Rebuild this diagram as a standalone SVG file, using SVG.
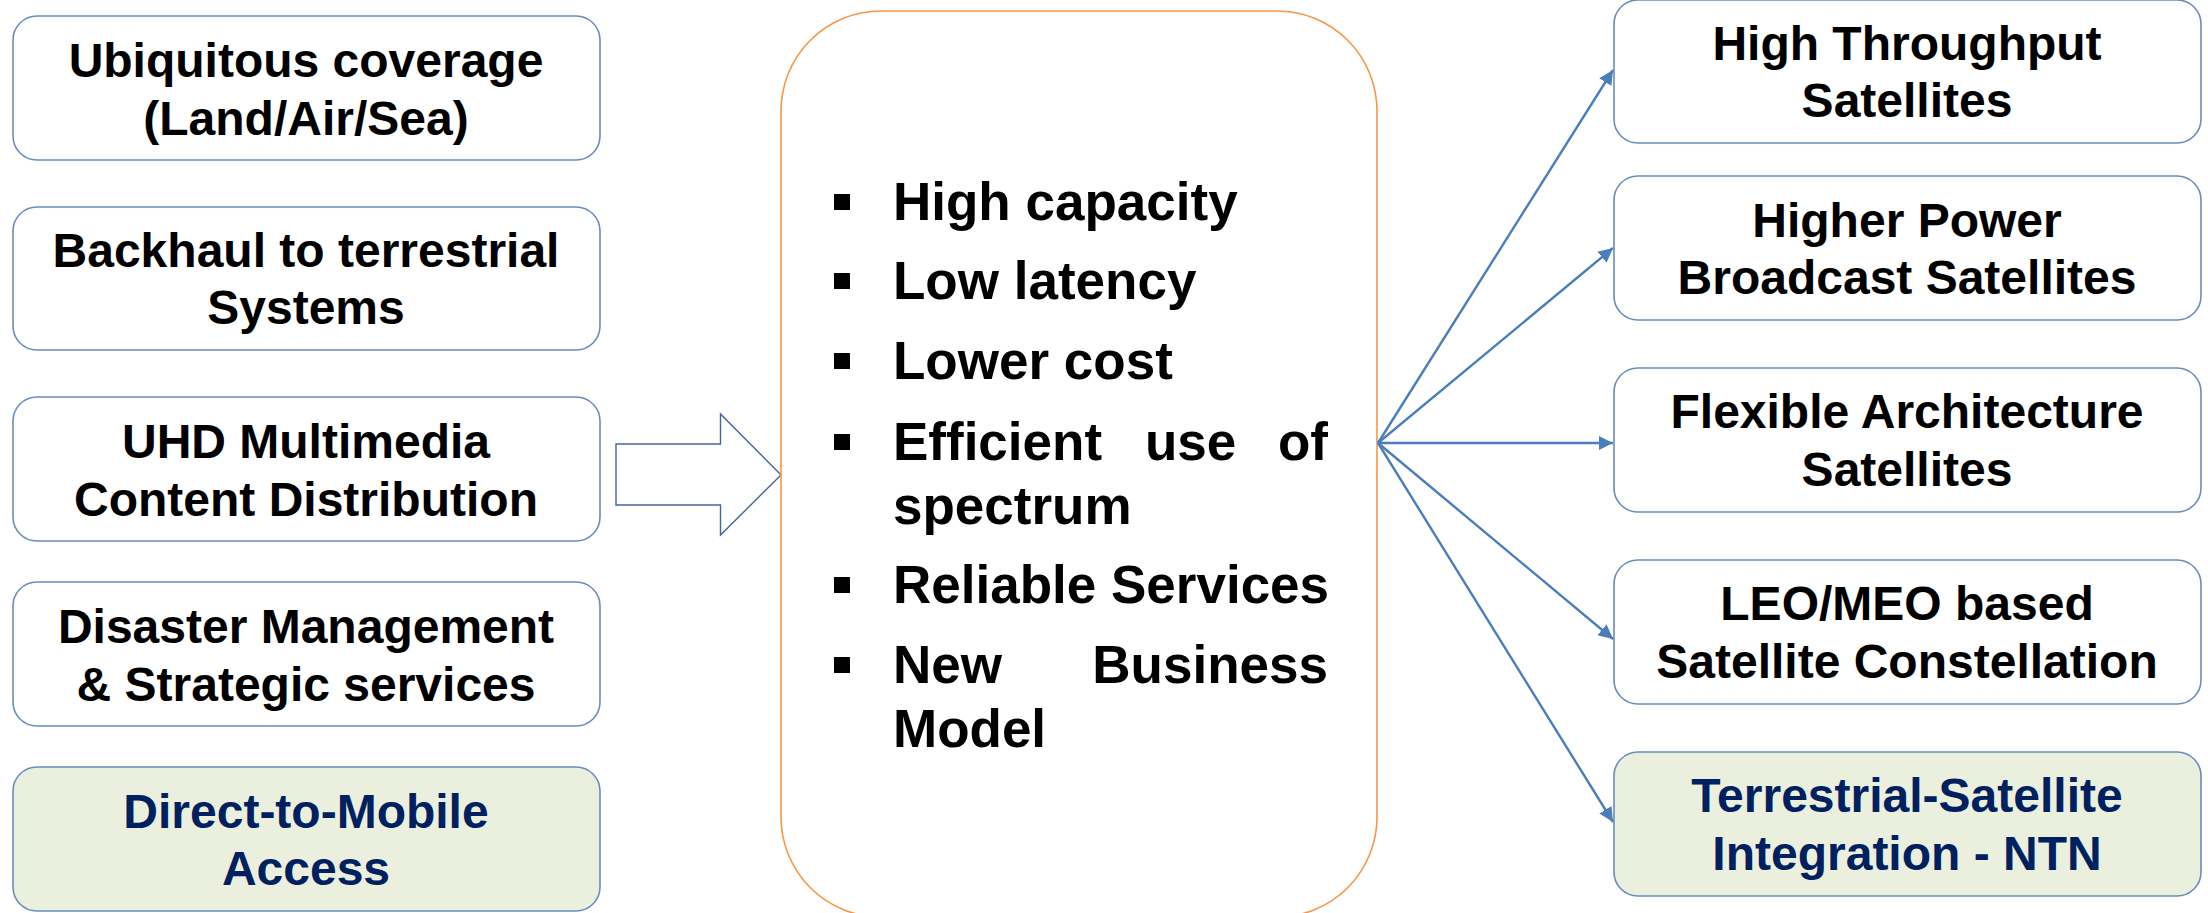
<svg xmlns="http://www.w3.org/2000/svg" width="2208" height="913" viewBox="0 0 2208 913">
<style>
.box{fill:#fff;stroke:#6A8CBE;stroke-width:1.6}
.green{fill:#EBF0DE;stroke:#6A8CBE;stroke-width:1.6}
.t{font-family:"Liberation Sans",Arial,sans-serif;font-weight:bold;font-size:48px;fill:#000;text-anchor:middle}
.tn{fill:#002060}
.b{font-family:"Liberation Sans",Arial,sans-serif;font-weight:bold;font-size:53px;fill:#000}
.conn{stroke:#4A7EBB;stroke-width:2.4;fill:none;marker-end:url(#ah)}
</style>
<defs>
<marker id="ah" viewBox="0 0 10 10" refX="10" refY="5" markerWidth="6" markerHeight="6" markerUnits="strokeWidth" orient="auto">
<path d="M0,0 L10,5 L0,10 z" fill="#4A7EBB"/>
</marker>
</defs>
<rect width="2208" height="913" fill="#fff"/>

<g id="left1"><rect class="box" x="13" y="16" width="587" height="144" rx="24"/>
<text class="t" x="306" y="77">Ubiquitous coverage</text><text class="t" x="306" y="135">(Land/Air/Sea)</text></g>
<g id="left2"><rect class="box" x="13" y="207" width="587" height="143" rx="24"/>
<text class="t" x="306" y="267">Backhaul to terrestrial</text><text class="t" x="306" y="324">Systems</text></g>
<g id="left3"><rect class="box" x="13" y="397" width="587" height="144" rx="24"/>
<text class="t" x="306" y="458">UHD Multimedia</text><text class="t" x="306" y="516">Content Distribution</text></g>
<g id="left4"><rect class="box" x="13" y="582" width="587" height="144" rx="24"/>
<text class="t" x="306" y="643">Disaster Management</text><text class="t" x="306" y="701">&amp; Strategic services</text></g>
<g id="left5"><rect class="green" x="13" y="767" width="587" height="144" rx="24"/>
<text class="t tn" x="306" y="828">Direct-to-Mobile</text><text class="t tn" x="306" y="885">Access</text></g>

<g id="bigarrow"><path d="M616,444 L720.5,444 L720.5,414 L781,475 L720.5,535 L720.5,505 L616,505 Z" fill="#fff" stroke="#41679C" stroke-width="1.4"/></g>

<g id="center"><rect x="781" y="11" width="596" height="906" rx="100" fill="#fff" stroke="#F79646" stroke-width="1.6"/>
<rect x="834" y="194" width="16" height="16"/><text class="b" x="893" y="220">High capacity</text>
<rect x="834" y="273" width="16" height="16"/><text class="b" x="893" y="299">Low latency</text>
<rect x="834" y="353" width="16" height="16"/><text class="b" x="893" y="379">Lower cost</text>
<rect x="834" y="434" width="16" height="16"/><text class="b" x="893" y="460">Efficient</text><text class="b" x="1145" y="460">use</text><text class="b" x="1328" y="460" text-anchor="end">of</text>
<text class="b" x="893" y="524">spectrum</text>
<rect x="834" y="577" width="16" height="16"/><text class="b" x="893" y="603">Reliable Services</text>
<rect x="834" y="657" width="16" height="16"/><text class="b" x="893" y="683">New</text><text class="b" x="1328" y="683" text-anchor="end">Business</text>
<text class="b" x="893" y="747">Model</text></g>

<g id="right1"><rect class="box" x="1614" y="0" width="587" height="143" rx="24"/>
<text class="t" x="1907" y="60">High Throughput</text><text class="t" x="1907" y="117">Satellites</text></g>
<g id="right2"><rect class="box" x="1614" y="176" width="587" height="144" rx="24"/>
<text class="t" x="1907" y="237">Higher Power</text><text class="t" x="1907" y="294">Broadcast Satellites</text></g>
<g id="right3"><rect class="box" x="1614" y="368" width="587" height="144" rx="24"/>
<text class="t" x="1907" y="428">Flexible Architecture</text><text class="t" x="1907" y="486">Satellites</text></g>
<g id="right4"><rect class="box" x="1614" y="560" width="587" height="144" rx="24"/>
<text class="t" x="1907" y="620">LEO/MEO based</text><text class="t" x="1907" y="678">Satellite Constellation</text></g>
<g id="right5"><rect class="green" x="1614" y="752" width="587" height="144" rx="24"/>
<text class="t tn" x="1907" y="812">Terrestrial-Satellite</text><text class="t tn" x="1907" y="870">Integration - NTN</text></g>

<g id="connectors">
<line class="conn" x1="1378" y1="443" x2="1613" y2="70"/>
<line class="conn" x1="1378" y1="443" x2="1613" y2="248"/>
<line class="conn" x1="1378" y1="443" x2="1613" y2="443"/>
<line class="conn" x1="1378" y1="443" x2="1613" y2="639"/>
<line class="conn" x1="1378" y1="443" x2="1613" y2="822"/>
</g>
</svg>
